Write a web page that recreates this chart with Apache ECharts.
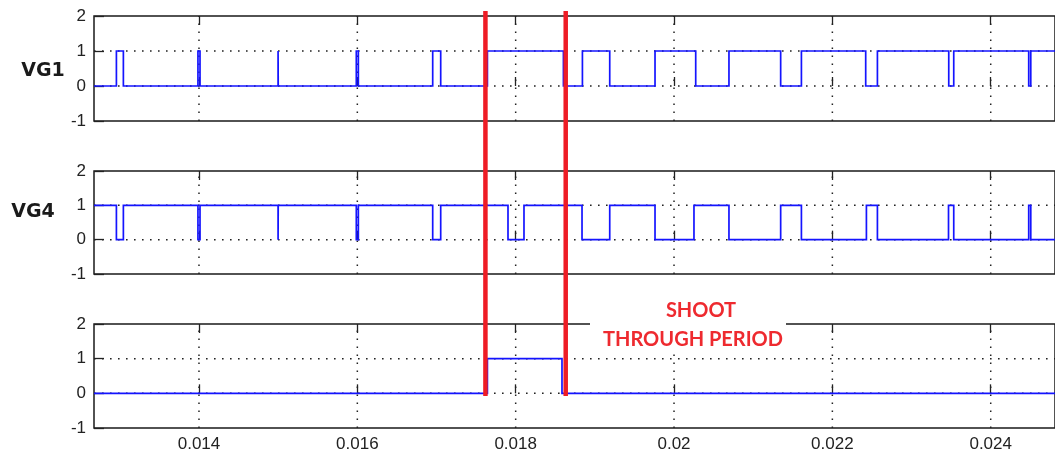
<!DOCTYPE html>
<html lang="en">
<head>
<meta charset="UTF-8">
<title>Shoot through period</title>
<script src="https://cdn.jsdelivr.net/npm/echarts@6/dist/echarts.min.js"></script>
<style>
    body { margin: 0; background: #fff; }
    #main { width: 1055px; height: 457px; }
</style>
</head>
<body>
<div id="main"></div>
<script>
    // time axis (s)
    const xMin = 0.012674;
    const xMax = 0.024812;
    const xTicks = [0.014, 0.016, 0.018, 0.02, 0.022, 0.024];
    const yTicks = [0, 1];

    // gate signals: start level + switching instants
    const vg1Start = 0;
    const vg1Edges = [0.012957, 0.013045, 0.013987, 0.014013, 0.014999, 0.015001,
        0.015987, 0.016013, 0.016952, 0.017053, 0.017643, 0.018603, 0.018843, 0.019188,
        0.01976, 0.020274, 0.020694, 0.021347, 0.021609, 0.022421, 0.022569, 0.02347,
        0.023533, 0.02448, 0.024506];
    const vg4Start = 1;
    const vg4Edges = [0.012957, 0.013045, 0.013987, 0.014013, 0.014999, 0.015001,
        0.015987, 0.016013, 0.016952, 0.017053, 0.017903, 0.018105, 0.018838, 0.019188,
        0.01976, 0.020252, 0.020694, 0.021347, 0.021609, 0.02243, 0.022569, 0.023467,
        0.023533, 0.02448, 0.024506];
    const stStart = 0;
    const stEdges = [0.017643, 0.018585];

    // red markers of the shoot through period
    const shootLines = [0.017618, 0.018632];
    const rowLabels = ['VG1', 'VG4'];

    function steps(start, edges) {
        let lvl = start;
        const pts = [[xMin, lvl]];
        edges.forEach(t => {
            pts.push([t, lvl]);
            lvl = 1 - lvl;
            pts.push([t, lvl]);
        });
        pts.push([xMax, lvl]);
        return pts;
    }

    const signals = [steps(vg1Start, vg1Edges), steps(vg4Start, vg4Edges), steps(stStart, stEdges)];
    const boxes = [{ top: 16, height: 105 }, { top: 171, height: 103 }, { top: 324, height: 104 }];

    const font = { fontFamily: 'Liberation Sans', fontSize: 17, color: '#222' };
    const tickStyle = { color: '#222', width: 1.3 };
    const dotted = { type: [1.6, 6.4], color: '#222', width: 1.5 };

    const grid = [], xAxis = [], yAxis = [], series = [];

    function gridLine(i, data) {
        series.push({
            type: 'line', xAxisIndex: i * 2, yAxisIndex: i, data: data,
            showSymbol: false, z: 1, silent: true, lineStyle: dotted
        });
    }

    boxes.forEach((b, i) => {
        grid.push({
            left: 94, width: 961, top: b.top, height: b.height,
            show: true, borderColor: '#1a1a1a', borderWidth: 1.5, backgroundColor: '#fff'
        });
        ['bottom', 'top'].forEach(pos => {
            xAxis.push({
                type: 'value', gridIndex: i, position: pos, min: xMin, max: xMax,
                axisLine: { show: false },
                axisTick: { show: true, inside: true, length: 9, customValues: xTicks, lineStyle: tickStyle },
                axisLabel: {
                    show: pos === 'bottom' && i === 2, customValues: xTicks, margin: 8,
                    formatter: v => String(+v.toFixed(3)), ...font
                },
                splitLine: { show: false }
            });
        });
        yAxis.push({
            type: 'value', gridIndex: i, min: -1, max: 2, interval: 1,
            axisLine: { show: false },
            axisTick: { show: true, inside: true, length: 10, lineStyle: tickStyle },
            axisLabel: { margin: 8, ...font },
            splitLine: { show: false }
        });
        // dotted grid
        xTicks.forEach(v => gridLine(i, [[v, -1], [v, 2]]));
        yTicks.forEach(v => gridLine(i, [[xMin, v], [xMax, v]]));
        series.push({
            type: 'line', xAxisIndex: i * 2, yAxisIndex: i, data: signals[i],
            showSymbol: false, z: 3, silent: true,
            lineStyle: { color: '#1414ff', width: 1.7, join: 'miter' }
        });
    });

    // overlay for the red markers
    grid.push({ left: 94, width: 961, top: 11, height: 385, show: false });
    xAxis.push({ type: 'value', gridIndex: 3, min: xMin, max: xMax, show: false });
    yAxis.push({ type: 'value', gridIndex: 3, min: 0, max: 1, show: false });
    shootLines.forEach(t => {
        series.push({
            type: 'line', xAxisIndex: 6, yAxisIndex: 3, data: [[t, 0], [t, 1]],
            showSymbol: false, z: 60, silent: true,
            lineStyle: { color: '#ee1c25', width: 4.5, cap: 'butt' }
        });
    });

    const chart = echarts.init(document.getElementById('main'));
    chart.setOption({
        animation: false,
        backgroundColor: '#fff',
        grid, xAxis, yAxis, series,
        graphic: [
            { type: 'rect', z: 50, shape: { x: 590, y: 296, width: 196, height: 58 }, style: { fill: '#fff' } },
            { type: 'text', z: 51, x: 701, y: 311, style: { text: 'SHOOT', fill: '#ee2a2f', font: 'bold 20px Lato', align: 'center', verticalAlign: 'middle' } },
            { type: 'text', z: 51, x: 693, y: 340, style: { text: 'THROUGH PERIOD', fill: '#ee2a2f', font: 'bold 20px Lato', align: 'center', verticalAlign: 'middle' } },
            { type: 'text', z: 51, x: 43, y: 71, style: { text: rowLabels[0], fill: '#1a1a1a', font: 'bold 19px "DejaVu Sans"', align: 'center', verticalAlign: 'middle' } },
            { type: 'text', z: 51, x: 33, y: 212, style: { text: rowLabels[1], fill: '#1a1a1a', font: 'bold 19px "DejaVu Sans"', align: 'center', verticalAlign: 'middle' } }
        ]
    });
</script>
</body>
</html>
